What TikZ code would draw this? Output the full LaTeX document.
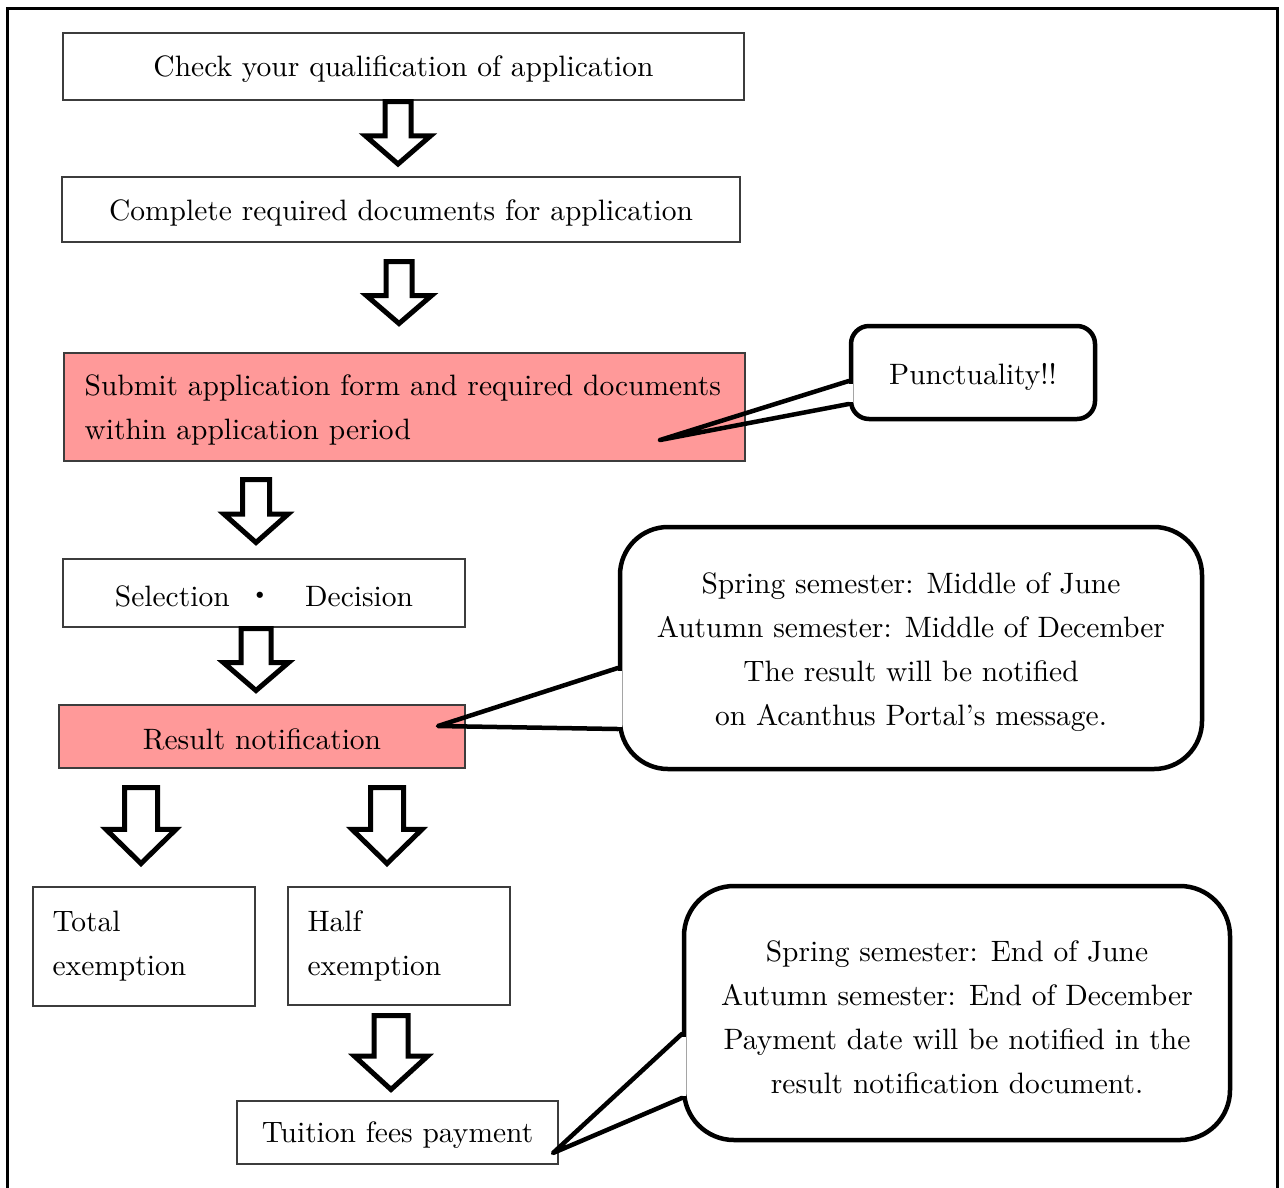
\documentclass[tikz,border=0pt]{standalone}
\usepackage{fontspec}
\setmainfont{lmroman10-regular.otf}
\newfontfamily\cjk{Noto Sans CJK JP}
\usetikzlibrary{calc}
\definecolor{pinkc}{RGB}{255,153,153}
\definecolor{boxline}{RGB}{60,60,60}
\newcommand\mainsz{\fontsize{29.5}{44}\selectfont}
% \barrow{cx}{ytop}{ytip}{shaft half width}{head half width}
\newcommand\barrow[5]{%
  \draw[blockarrow] ({#1-#4},#2) -- ({#1+#4},#2) -- ({#1+#4},{#2+0.55*(#3-#2)}) -- ({#1+#5},{#2+0.55*(#3-#2)})
    -- (#1,#3) -- ({#1-#5},{#2+0.55*(#3-#2)}) -- ({#1-#4},{#2+0.55*(#3-#2)}) -- cycle;}
\tikzset{
  box/.style={draw=boxline, line width=1.2pt, fill=white, inner sep=0pt},
  pinkbox/.style={box, fill=pinkc},
  txt/.style={inner sep=0pt, font=\mainsz, yshift=-3pt},
  blockarrow/.style={draw=black, line width=5pt, fill=white, line join=miter, miter limit=10},
  callout/.style={draw=black, line width=4.5pt, fill=white, rounded corners=#1, inner sep=0pt},
  calltext/.style={txt, align=center, yshift=-1pt},
  pointer/.style={draw=black, line width=4.5pt, line join=round, line cap=round},
  frameline/.style={draw=black, line width=3pt}
}
\begin{document}
\begin{tikzpicture}[x=1pt,y=-1pt]
\useasboundingbox (0,0) rectangle (1284,1187);
\fill[white] (0,0) rectangle (1284,1187);
\draw[frameline] (7,1195) -- (7,8) -- (1277,8) -- (1277,1195);

% boxes
\node[box, minimum width=681pt, minimum height=67pt] (b1) at (403.5,66.5) {};
\node[txt] (t1x) at (b1.center) {Check your qualification of application};
\node[box, minimum width=678pt, minimum height=65pt] (b2) at (401,209.5) {};
\node[txt] (t2x) at (b2.center) {Complete required documents for application};
\node[pinkbox, minimum width=681pt, minimum height=108pt] (b3) at (404.5,407) {};
\node[txt, align=left, anchor=west] (t3x) at ($(b3.west)+(21,0)$)
  {Submit application form and required documents\\within application period};
\node[box, minimum width=402pt, minimum height=68pt] (b4) at (264,593) {};
\node[txt] (t4x) at (b4.center) {Selection\hspace{16pt}{\cjk ・}\hspace{30pt}Decision};
\node[pinkbox, minimum width=406pt, minimum height=63pt] (b5) at (262,736.5) {};
\node[txt] (t5x) at (b5.center) {Result notification};
\node[box, minimum width=222pt, minimum height=119pt] (b6) at (144,946.5) {};
\node[txt, align=left, anchor=west, yshift=3pt] (t6x) at ($(b6.west)+(20,0)$) {Total\\exemption};
\node[box, minimum width=222pt, minimum height=118pt] (b7) at (399,946) {};
\node[txt, align=left, anchor=west, yshift=3pt] (t7x) at ($(b7.west)+(20,0)$) {Half\\exemption};
\node[box, minimum width=321pt, minimum height=63pt] (b8) at (397.5,1132.5) {};
\node[txt] (t8x) at (b8.center) {Tuition fees payment};

% block arrows
\barrow{398}{101.5}{164}{13}{32.5}
\barrow{399}{261.5}{323.5}{13}{32.5}
\barrow{256}{479.5}{542.5}{13.5}{32}
\barrow{256}{628.5}{690.5}{15}{32.5}
\barrow{141}{787.5}{863.5}{16.5}{35}
\barrow{387}{787.5}{863.5}{16.5}{35}
\barrow{391}{1015.5}{1089.5}{17}{36.5}

% callouts
\node[callout=18pt, minimum width=244pt, minimum height=93pt] (c1) at (973,372.5) {};
\node[calltext] (c1t) at (c1.center) {Punctuality!!};
\node[callout=48pt, minimum width=582pt, minimum height=242pt] (c2) at (911,648) {};
\node[calltext] (c2t) at (c2.center)
  {Spring semester: Middle of June\\Autumn semester: Middle of December\\The result will be notified\\on Acanthus Portal’s message.};
\node[callout=50pt, minimum width=546pt, minimum height=254pt] (c3) at (957,1013) {};
\node[calltext] (c3t) at (c3.center)
  {Spring semester: End of June\\Autumn semester: End of December\\Payment date will be notified in the\\result notification document.};

% pointers
\coordinate (p1a) at ($(c1.west)+(0,8.5)$);
\coordinate (p1b) at ($(c1.west)+(0,31.5)$);
\coordinate (t1) at (660,440);
\coordinate (p2a) at ($(c2.west)+(0,20)$);
\coordinate (p2b) at ($(c2.west)+(0,81)$);
\coordinate (t2) at (438,726);
\coordinate (p3a) at ($(c3.west)+(0,21)$);
\coordinate (p3b) at ($(c3.west)+(0,85)$);
\coordinate (t3) at (553,1153);
\foreach \a/\b in {p1a/p1b,p2a/p2b,p3a/p3b}{
  \fill[white] ($(\a)+(-4,2.5)$) rectangle ($(\b)+(4,-2.5)$);
}
\draw[pointer] (p1a) -- (t1) -- (p1b);
\draw[pointer] (p2a) -- (t2) -- (p2b);
\draw[pointer] (p3a) -- (t3) -- (p3b);
\end{tikzpicture}
\end{document}
